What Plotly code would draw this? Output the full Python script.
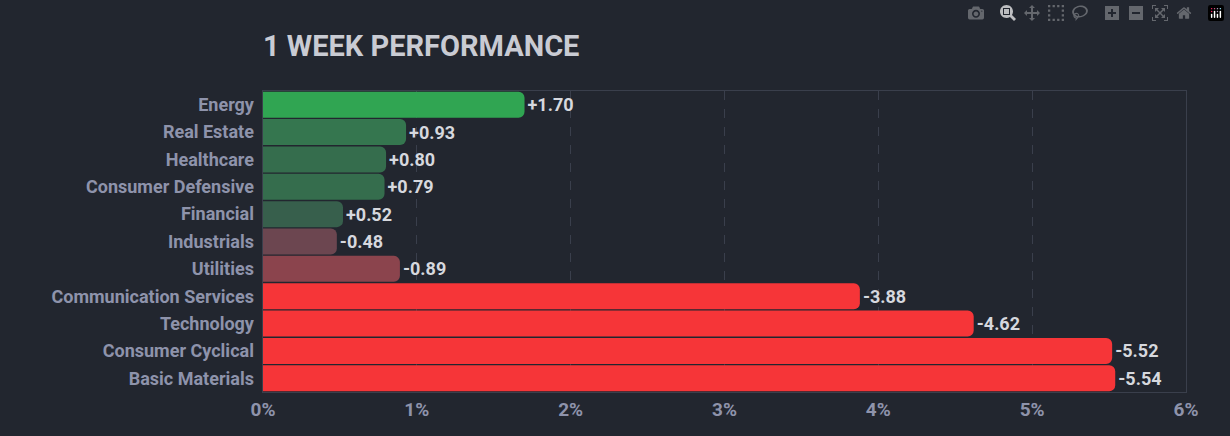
import plotly.graph_objects as go

sectors = ["Energy", "Real Estate", "Healthcare", "Consumer Defensive", "Financial",
           "Industrials", "Utilities", "Communication Services", "Technology",
           "Consumer Cyclical", "Basic Materials"]
changes = [1.70, 0.93, 0.80, 0.79, 0.52, -0.48, -0.89, -3.88, -4.62, -5.52, -5.54]
colors = ["#30a552", "#35764f", "#356d4d", "#356d4d", "#375f4c",
          "#6c4650", "#8b444d", "#f63538", "#f63538", "#f63538", "#f63538"]
tick_vals = [0, 1, 2, 3, 4, 5, 6]
tick_text = ["0%", "1%", "2%", "3%", "4%", "5%", "6%"]

labels = [f"{v:+.2f}" for v in changes]
fig = go.Figure(go.Bar(
    y=sectors, x=[abs(v) for v in changes], orientation="h",
    marker=dict(color=colors, line=dict(width=0)),
    text=labels, textposition="outside", cliponaxis=False,
    textfont=dict(color="#d6d8de", size=18, family="Roboto", weight="bold"),
))
fig.update_layout(
    width=1230, height=436,
    paper_bgcolor="#22262f", plot_bgcolor="#22262f",
    margin=dict(l=263, r=44, t=91, b=44),
    bargap=0.05, barcornerradius=6,
    font=dict(family="Roboto", color="#8e93ab", size=17),
    title=dict(text="<b>1 WEEK PERFORMANCE</b>", x=263/1230, xanchor="left",
               y=0.895, yanchor="middle", font=dict(size=29, color="#c9cbd3")),
    showlegend=False,
)
fig.update_xaxes(range=[0, 6], tickvals=tick_vals, ticktext=tick_text,
                 showgrid=True, gridcolor="#3a3f4c", griddash="dash", zeroline=False,
                 showline=True, linecolor="#3a3f4c", mirror=True,
                 tickfont=dict(size=19, color="#8e93ab", family="Roboto", weight="bold"))
fig.update_yaxes(autorange="reversed", showgrid=False, ticksuffix=" ",
                 showline=True, linecolor="#3a3f4c", mirror=True,
                 tickfont=dict(size=18, color="#8e93ab", family="Roboto", weight="bold"))
fig.write_html("out.html",
               post_script="document.body.style.margin='0';document.body.style.background='#22262f';")
